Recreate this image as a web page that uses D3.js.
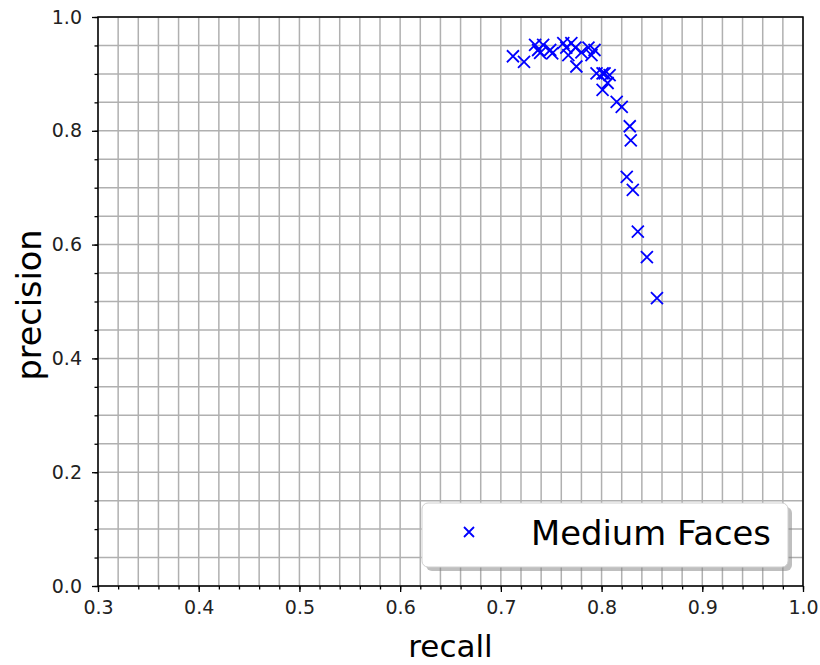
<!DOCTYPE html>
<html><head><meta charset="utf-8">
<script src="https://cdn.jsdelivr.net/npm/d3@7"></script>
<style>body{margin:0;background:#fff;} svg{display:block;font-family:"DejaVu Sans",sans-serif;}</style>
</head><body>
<svg id="c" width="820" height="665"></svg>
<script>
const recall = [0.712,0.723,0.734,0.737,0.742,0.739,0.749,0.751,0.762,0.765,0.770,0.774,0.775,0.767,0.780,0.787,0.793,0.790,0.795,0.801,0.803,0.808,0.806,0.801,0.815,0.820,0.828,0.829,0.825,0.831,0.836,0.845,0.855];
const precision = [0.931,0.921,0.951,0.942,0.951,0.937,0.942,0.936,0.954,0.946,0.954,0.946,0.913,0.933,0.938,0.946,0.942,0.933,0.901,0.901,0.901,0.898,0.884,0.872,0.851,0.842,0.808,0.783,0.719,0.696,0.623,0.578,0.506];
const xTicks = [0.3,0.4,0.5,0.6,0.7,0.8,0.9,1.0];
const yTicks = [0.0,0.2,0.4,0.6,0.8,1.0];
const seriesName = "Medium Faces";

const svg = d3.select("#c");
const L=98, R=803, T=17, B=586;
const x = d3.scaleLinear().domain([0.3,1.0]).range([L,R]);
const y = d3.scaleLinear().domain([0,1]).range([B,T]);
const xMinor = d3.range(0,36).map(i=>+(0.3+i*0.02).toFixed(2));
const yMinor = d3.range(0,21).map(i=>+(i*0.05).toFixed(2));

// grid
const g = svg.append("g");
g.selectAll(".vx").data(xMinor).join("line")
  .attr("x1",d=>x(d)).attr("x2",d=>x(d)).attr("y1",T).attr("y2",B)
  .attr("stroke","#b0b0b0").attr("stroke-width",1.5);
g.selectAll(".hy").data(yMinor).join("line")
  .attr("y1",d=>y(d)).attr("y2",d=>y(d)).attr("x1",L).attr("x2",R)
  .attr("stroke","#b0b0b0").attr("stroke-width",1.5);

// axes
const xAx = svg.append("g").attr("transform",`translate(0,${B})`)
  .call(d3.axisBottom(x).tickValues(xTicks).tickFormat(d3.format(".1f")).tickSize(6).tickPadding(9));
const xAxMinor = svg.append("g").attr("transform",`translate(0,${B})`)
  .call(d3.axisBottom(x).tickValues(xMinor).tickFormat("").tickSize(3.5));
const yAx = svg.append("g").attr("transform",`translate(${L},0)`)
  .call(d3.axisLeft(y).tickValues(yTicks).tickFormat(d3.format(".1f")).tickSize(6).tickPadding(10));
const yAxMinor = svg.append("g").attr("transform",`translate(${L},0)`)
  .call(d3.axisLeft(y).tickValues(yMinor).tickFormat("").tickSize(3.5));
[xAx,xAxMinor,yAx,yAxMinor].forEach(a=>{
  a.select(".domain").remove();
  a.selectAll("line").attr("stroke","#000").attr("stroke-width",1.3);
  a.selectAll("text").attr("font-size",19).attr("fill","#222").attr("font-family","DejaVu Sans");
});
// frame
svg.append("rect").attr("x",L).attr("y",T).attr("width",R-L).attr("height",B-T)
  .attr("fill","none").attr("stroke","#000").attr("stroke-width",1.5);

// points
const s=6;
svg.append("g").selectAll("path").data(recall.map((r,i)=>[r,precision[i]])).join("path")
  .attr("d",d=>{const cx=x(d[0]),cy=y(d[1]);return `M${cx-s},${cy-s}L${cx+s},${cy+s}M${cx-s},${cy+s}L${cx+s},${cy-s}`;})
  .attr("stroke","#0000ff").attr("stroke-width",1.8).attr("fill","none");

// labels
svg.append("text").attr("x",(L+R)/2).attr("y",657).attr("text-anchor","middle")
  .attr("font-size",31).attr("fill","#000").text("recall");
svg.append("text").attr("transform",`translate(41,305) rotate(-90)`).attr("text-anchor","middle")
  .attr("font-size",33.5).attr("fill","#000").text("precision");

// legend
const lx=422, ly=503, lw=366, lh=64;
svg.append("rect").attr("x",lx+4).attr("y",ly+4).attr("width",lw).attr("height",lh).attr("rx",6)
  .attr("fill","#808080").attr("opacity",0.5);
svg.append("rect").attr("x",lx).attr("y",ly).attr("width",lw).attr("height",lh).attr("rx",6)
  .attr("fill","#fff").attr("stroke","#d0d0d0").attr("stroke-width",1);
const mx=469, my=532, ms=5;
svg.append("path").attr("d",`M${mx-ms},${my-ms}L${mx+ms},${my+ms}M${mx-ms},${my+ms}L${mx+ms},${my-ms}`)
  .attr("stroke","#0000ff").attr("stroke-width",1.8);
svg.append("text").attr("x",531).attr("y",545).attr("font-size",33.8).attr("fill","#000").text(seriesName);
</script>
</body></html>
